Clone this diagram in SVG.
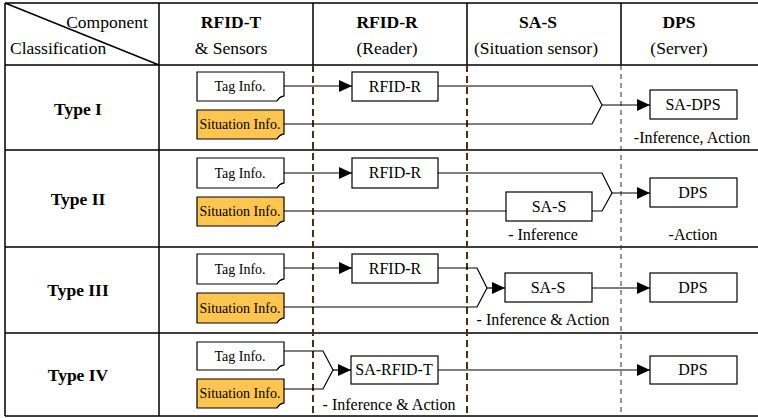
<svg xmlns="http://www.w3.org/2000/svg" width="758" height="418" viewBox="0 0 758 418" font-family="'Liberation Serif', 'DejaVu Serif', serif">
<defs>
<marker id="arr" markerUnits="userSpaceOnUse" markerWidth="14" markerHeight="13" refX="13" refY="6" orient="auto">
<path d="M0,0 L13,6 L0,12 Z" fill="#000"/>
</marker>
<style>
text{font-family:'Liberation Serif','DejaVu Serif',serif;fill:#000}
.hd{font-size:17.5px;text-anchor:middle}
.b{font-weight:bold}
.ty{font-size:17.5px;font-weight:bold;text-anchor:middle}
.bx{fill:#fff;stroke:#000;stroke-width:1.2}
.bt{font-size:16px;text-anchor:middle}
.nt{font-size:14px;text-anchor:middle}
.an{font-size:16px;text-anchor:middle}
.note{fill:#fff;stroke:#000;stroke-width:1.2}
.note.s{fill:#FEC550}
.fold{fill:none;stroke:#000;stroke-width:1}
.grid{stroke:#000;stroke-width:1.5;fill:none}
.dsh{stroke:#4E2F12;stroke-width:2;stroke-dasharray:7,4;fill:none}
.dsh2{stroke:#3a2a1a;stroke-width:1;stroke-dasharray:5,4;fill:none}
.c{fill:none;stroke:#000;stroke-width:1.2}
.ca{fill:none;stroke:#000;stroke-width:1.2;marker-end:url(#arr)}
</style>
</defs>
<rect width="758" height="418" fill="#fff"/>
<g id="grid">
<path class="grid" d="M5,3 H758 M5,65 H758 M5,150 H758 M5,247 H758 M5,333 H758 M5,416 H758 M5,3 V416 M159,3 V416 M313,3 V65 M467,3 V65 M621,3 V65 M5,3 L159,65"/>
<path class="dsh" d="M313,65 V416 M467,65 V416"/>
<path class="dsh2" d="M621,65 V416"/>
</g>
<g id="header">
<text class="hd" x="107" y="28">Component</text>
<text class="hd" x="10" y="54" style="text-anchor:start">Classification</text>
<text class="hd b" x="231" y="28">RFID-T</text>
<text class="hd" x="231" y="54">&amp; Sensors</text>
<text class="hd b" x="387" y="28">RFID-R</text>
<text class="hd" x="387" y="54">(Reader)</text>
<text class="hd b" x="538" y="28">SA-S</text>
<text class="hd" x="536" y="54">(Situation sensor)</text>
<text class="hd b" x="679" y="28">DPS</text>
<text class="hd" x="679" y="54">(Server)</text>
</g>
<g id="labels">
<text class="ty" x="78" y="115">Type I</text>
<text class="ty" x="78" y="205">Type II</text>
<text class="ty" x="78" y="296">Type III</text>
<text class="ty" x="78" y="381">Type IV</text>
</g>
<g id="connectors">
<path class="ca" d="M284,86 H352"/>
<path class="c" d="M438,86 H592 L602,105 L592,124 H284"/>
<path class="ca" d="M602,105 H650"/>
<path class="ca" d="M284,173 H352"/>
<path class="c" d="M438,173 H602 L612,193 L602,211 H592"/>
<path class="c" d="M284,211 H506"/>
<path class="ca" d="M612,193 H650"/>
<path class="ca" d="M284,268 H352"/>
<path class="c" d="M438,268 H477 L487,288 L477,307 H284"/>
<path class="ca" d="M487,288 H505"/>
<path class="ca" d="M592,288 H650"/>
<path class="c" d="M284,351 H323 L333,370 L323,389 H284"/>
<path class="ca" d="M333,370 H351"/>
<path class="ca" d="M438,370 H650"/>
</g>
<g id="t1-tag"><path class="note" d="M197,72 H284 V96 Q280,96 277,101 H197 Z"/><path class="fold" d="M277,101 L279,98 L284,96"/><text class="nt" x="240" y="91">Tag Info.</text></g>
<g id="t1-sit"><path class="note s" d="M197,110 H284 V134 Q280,134 277,139 H197 Z"/><path class="fold" d="M277,139 L279,136 L284,134"/><text class="nt" x="240" y="129">Situation Info.</text></g>
<g id="t1-rfidr"><rect class="bx" x="352" y="72" width="86" height="29"/><text class="bt" x="395" y="92">RFID-R</text></g>
<g id="t1-sadps"><rect class="bx" x="650" y="90" width="87" height="29"/><text class="bt" x="693" y="110">SA-DPS</text><text class="an" x="692" y="143">-Inference, Action</text></g>
<g id="t2-tag"><path class="note" d="M197,158 H284 V183 Q280,183 277,188 H197 Z"/><path class="fold" d="M277,188 L279,185 L284,183"/><text class="nt" x="240" y="178">Tag Info.</text></g>
<g id="t2-sit"><path class="note s" d="M197,197 H284 V221 Q280,221 277,226 H197 Z"/><path class="fold" d="M277,226 L279,223 L284,221"/><text class="nt" x="240" y="216">Situation Info.</text></g>
<g id="t2-rfidr"><rect class="bx" x="352" y="158" width="86" height="30"/><text class="bt" x="395" y="178">RFID-R</text></g>
<g id="t2-sas"><rect class="bx" x="506" y="192" width="86" height="29"/><text class="bt" x="549" y="212">SA-S</text><text class="an" x="543" y="240">- Inference</text></g>
<g id="t2-dps"><rect class="bx" x="650" y="178" width="87" height="29"/><text class="bt" x="693" y="198">DPS</text><text class="an" x="693" y="240">-Action</text></g>
<g id="t3-tag"><path class="note" d="M197,254 H284 V279 Q280,279 277,284 H197 Z"/><path class="fold" d="M277,284 L279,281 L284,279"/><text class="nt" x="240" y="274">Tag Info.</text></g>
<g id="t3-sit"><path class="note s" d="M197,293 H284 V318 Q280,318 277,323 H197 Z"/><path class="fold" d="M277,323 L279,320 L284,318"/><text class="nt" x="240" y="313">Situation Info.</text></g>
<g id="t3-rfidr"><rect class="bx" x="352" y="254" width="86" height="29"/><text class="bt" x="395" y="274">RFID-R</text></g>
<g id="t3-sas"><rect class="bx" x="505" y="273" width="87" height="29"/><text class="bt" x="548" y="293">SA-S</text><text class="an" x="543" y="325">- Inference &amp; Action</text></g>
<g id="t3-dps"><rect class="bx" x="650" y="273" width="87" height="29"/><text class="bt" x="693" y="293">DPS</text></g>
<g id="t4-tag"><path class="note" d="M197,342 H284 V365 Q280,365 277,370 H197 Z"/><path class="fold" d="M277,370 L279,367 L284,365"/><text class="nt" x="240" y="361">Tag Info.</text></g>
<g id="t4-sit"><path class="note s" d="M197,379 H284 V403 Q280,403 277,408 H197 Z"/><path class="fold" d="M277,408 L279,405 L284,403"/><text class="nt" x="240" y="398">Situation Info.</text></g>
<g id="t4-sarfidt"><rect class="bx" x="351" y="356" width="87" height="28"/><text class="bt" x="394" y="375">SA-RFID-T</text><text class="an" x="389" y="410">- Inference &amp; Action</text></g>
<g id="t4-dps"><rect class="bx" x="650" y="356" width="87" height="28"/><text class="bt" x="693" y="375">DPS</text></g>
</svg>
